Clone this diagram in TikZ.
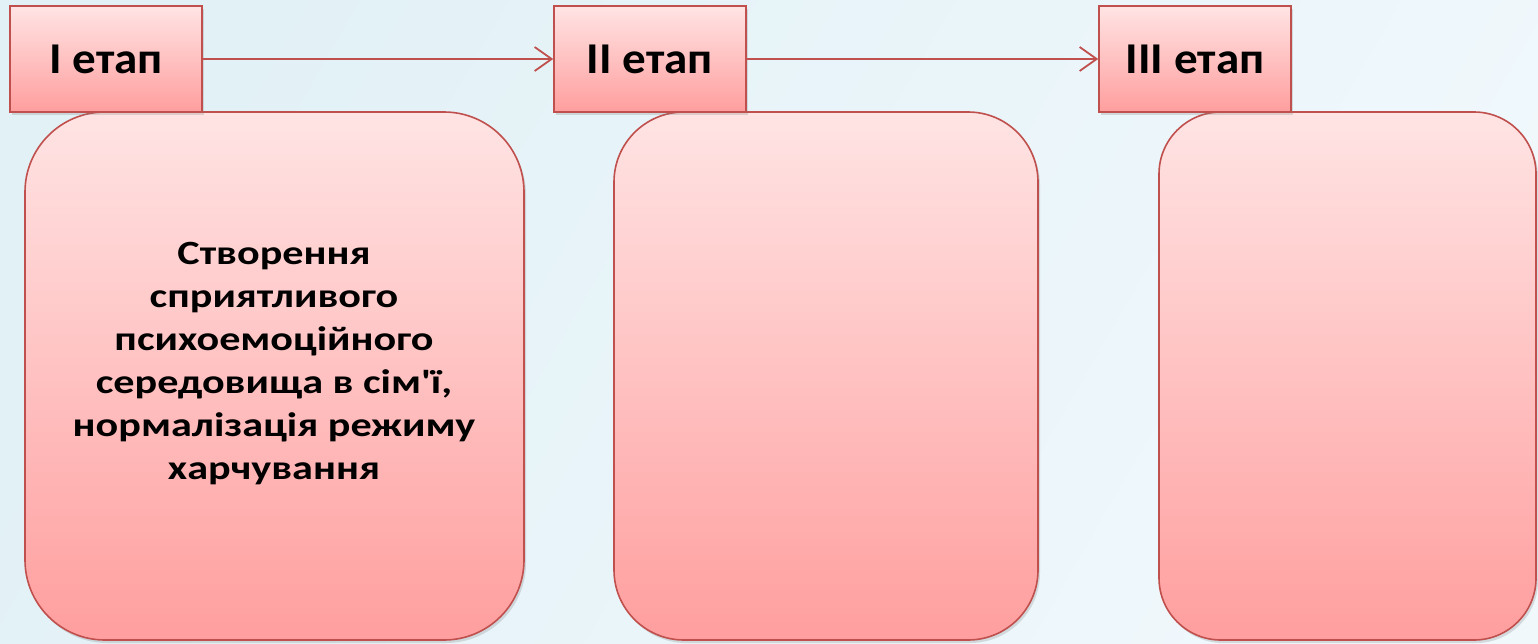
\documentclass[tikz,border=0pt]{standalone}
\usepackage{fontspec}
\setmainfont{Carlito}[Ligatures=TeXOff]
\newfontfamily\bodyfont{Carlito}[Ligatures=TeXOff, FakeStretch=1.24]
\newfontfamily\stagefont{Carlito}[Ligatures=TeXOff, FakeStretch=1.07]
\usetikzlibrary{arrows.meta,shadows}
\definecolor{bordred}{RGB}{192,80,77}
\definecolor{pinktop}{RGB}{255,228,228}
\definecolor{pinkbot}{RGB}{255,158,158}
\definecolor{bgA}{RGB}{226,241,246}
\definecolor{bgB}{RGB}{206,230,238}
\definecolor{bgC}{RGB}{240,248,252}
\tikzset{
  stagebox/.style={draw=bordred, line width=1.6pt, top color=pinktop, bottom color=pinkbot,
    minimum width=192pt, minimum height=106pt, inner sep=0pt,
    font=\stagefont\bfseries\fontsize{44}{50}\selectfont,
    drop shadow={opacity=0.25, shadow xshift=2pt, shadow yshift=-3pt}},
  bigbox/.style={draw=bordred, line width=1.6pt, top color=pinktop, bottom color=pinkbot,
    inner sep=0pt, drop shadow={opacity=0.25, shadow xshift=2pt, shadow yshift=-3pt}},
  bodytext/.style={align=center, font=\bodyfont\bfseries\fontsize{34}{43}\selectfont},
  link/.style={draw=bordred, line width=1.8pt, -{Straight Barb[length=17pt,width=24pt,line width=1.8pt]}}
}
\begin{document}
\begin{tikzpicture}[x=1pt,y=-1pt]
\useasboundingbox (0,0) rectangle (1538,643);
\shade[left color=bgA, middle color=bgB, right color=bgC, shading angle=60] (0,0) rectangle (1538,643);
% large boxes
\node[bigbox, rounded corners=80pt, minimum width=499pt, minimum height=528pt] (b1) at (274.5,376) {};
\node[bigbox, rounded corners=70pt, minimum width=424pt, minimum height=528pt] (b2) at (826,376) {};
\node[bigbox, rounded corners=62pt, minimum width=377pt, minimum height=528pt] (b3) at (1347.5,376) {};
% stage boxes
\node[stagebox] (s1) at (106,59) {I етап};
\node[stagebox] (s2) at (650,59) {II етап};
\node[stagebox] (s3) at (1195,59) {III етап};
% text
\node[bodytext] (t1) at (274,364) {Створення\\ сприятливого\\ психоемоційного\\ середовища в сім'ї,\\ нормалізація режиму\\ харчування};
% arrows
\draw[link] (s1.east) -- (s2.west);
\draw[link] (s2.east) -- (s3.west);
\end{tikzpicture}
\end{document}
